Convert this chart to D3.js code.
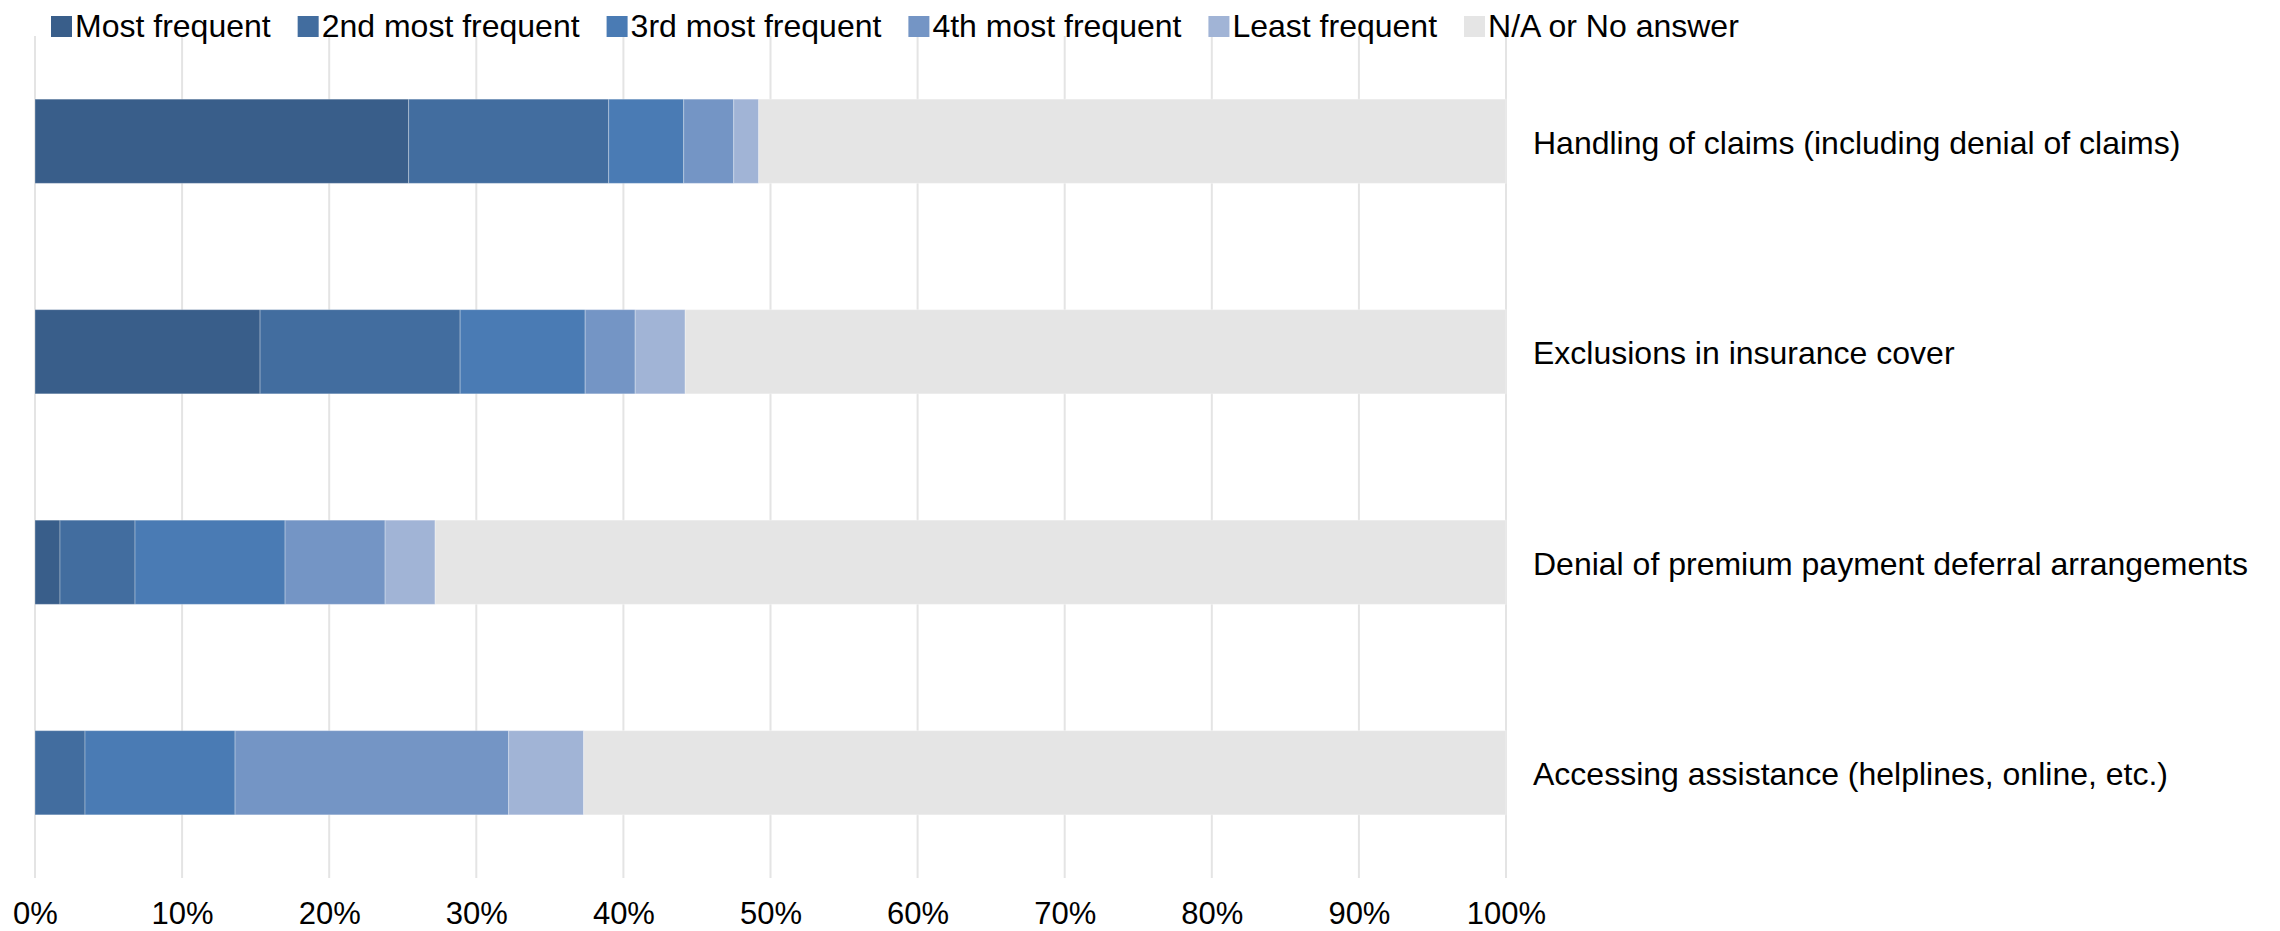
<!DOCTYPE html>
<html>
<head>
<meta charset="utf-8">
<script src="https://cdn.jsdelivr.net/npm/d3@7"></script>
<style>
  html, body { margin: 0; padding: 0; background: #ffffff; }
  svg { display: block; font-family: "Liberation Sans", Arial, sans-serif; }
</style>
</head>
<body>
<svg id="chart" width="2280" height="931"></svg>
<script>
// Issues raised, share of respondents by how frequently each was reported
const categories = [
  "Handling of claims (including denial of claims)",
  "Exclusions in insurance cover",
  "Denial of premium payment deferral arrangements",
  "Accessing assistance (helplines, online, etc.)"
];
const seriesNames = [
  "Most frequent",
  "2nd most frequent",
  "3rd most frequent",
  "4th most frequent",
  "Least frequent",
  "N/A or No answer"
];
const mostFrequent    = [25.4, 15.3, 1.7, 0.0];
const secondFrequent  = [13.6, 13.6, 5.1, 3.4];
const thirdFrequent   = [5.1, 8.5, 10.2, 10.2];
const fourthFrequent  = [3.4, 3.4, 6.8, 18.6];
const leastFrequent   = [1.7, 3.4, 3.4, 5.1];
const noAnswer        = [50.8, 55.8, 72.8, 62.7];
const seriesColors = ["#395e8a", "#426d9f", "#4a7bb4", "#7495c5", "#a1b4d6", "#e5e5e5"];
const tickValues = [0, 10, 20, 30, 40, 50, 60, 70, 80, 90, 100];
const tickLabels = ["0%", "10%", "20%", "30%", "40%", "50%", "60%", "70%", "80%", "90%", "100%"];

const seriesValues = [mostFrequent, secondFrequent, thirdFrequent, fourthFrequent, leastFrequent, noAnswer];
const rows = categories.map((c, i) => {
  const r = { category: c };
  seriesNames.forEach((s, j) => { r[s] = seriesValues[j][i]; });
  return r;
});

const svg = d3.select("#chart");

const x = d3.scaleLinear().domain([0, 100]).range([35, 1506]);
const y = d3.scaleBand().domain(categories).range([36, 878])
  .paddingInner(0.6).paddingOuter(0.3);
const color = d3.scaleOrdinal().domain(seriesNames).range(seriesColors);

// vertical gridlines
svg.append("g")
  .selectAll("line")
  .data(tickValues)
  .join("line")
  .attr("x1", d => x(d)).attr("x2", d => x(d))
  .attr("y1", y.range()[0]).attr("y2", y.range()[1])
  .attr("stroke", "#e4e4e4")
  .attr("stroke-width", 2);

// stacked bars
const stacked = d3.stack().keys(seriesNames)(rows);
svg.append("g")
  .selectAll("g")
  .data(stacked)
  .join("g")
  .attr("fill", d => color(d.key))
  .selectAll("rect")
  .data(d => d)
  .join("rect")
  .attr("x", d => x(d[0]))
  .attr("width", d => x(d[1]) - x(d[0]))
  .attr("y", d => y(d.data.category))
  .attr("height", y.bandwidth())
  .attr("stroke", "rgba(255,255,255,0.3)")
  .attr("stroke-width", 1);

// x axis labels
const xAxis = d3.axisBottom(x)
  .tickValues(tickValues)
  .tickFormat((d, i) => tickLabels[i])
  .tickSize(0)
  .tickPadding(0);
const gx = svg.append("g").attr("transform", "translate(0,902)").call(xAxis);
gx.select(".domain").remove();
gx.selectAll("text")
  .attr("fill", "#000")
  .attr("font-size", 31)
  .attr("font-family", "Liberation Sans, Arial, sans-serif")
  .attr("dy", "0.72em");

// category labels on the right
const yAxis = d3.axisRight(y).tickSize(0).tickPadding(0);
const gy = svg.append("g").attr("transform", `translate(${x(100) + 27},2)`).call(yAxis);
gy.select(".domain").remove();
gy.selectAll("text")
  .attr("fill", "#000")
  .attr("font-size", 32)
  .attr("font-family", "Liberation Sans, Arial, sans-serif");

// legend across the top
const legend = svg.append("g").attr("class", "legend");
let lx = 51;
seriesNames.forEach((name, i) => {
  const item = legend.append("g").attr("transform", `translate(${lx},0)`);
  item.append("rect")
    .attr("x", 0).attr("y", 16)
    .attr("width", 21).attr("height", 21)
    .attr("fill", seriesColors[i]);
  const t = item.append("text")
    .attr("x", 24).attr("y", 37)
    .attr("font-size", 32)
    .attr("fill", "#000")
    .text(name);
  const w = t.node().getComputedTextLength();
  lx += 24 + w + 27;
});
</script>
</body>
</html>
